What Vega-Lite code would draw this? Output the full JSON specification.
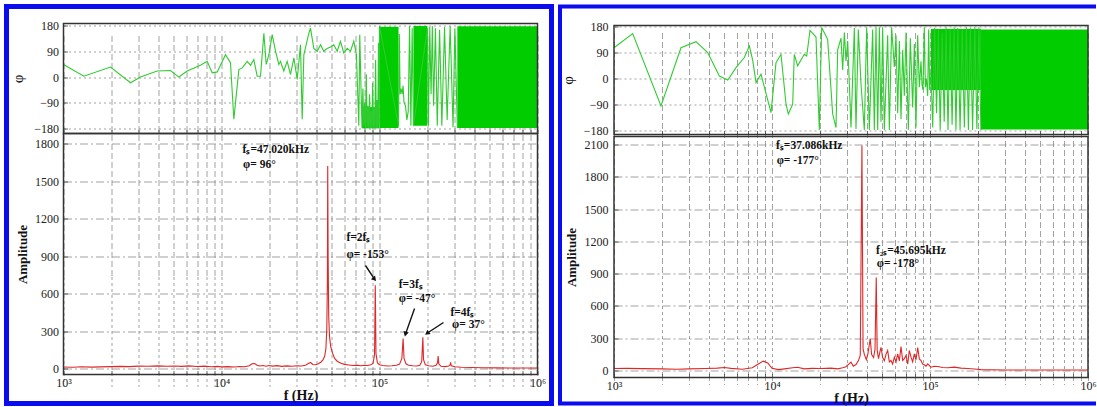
{
  "$schema": "https://vega.github.io/schema/vega-lite/v6.json",
  "background": "white",
  "padding": {"left": 3.5, "top": 3.5, "right": 0, "bottom": 0},
  "spacing": 3.5,
  "config": {
    "font": "Liberation Serif",
    "view": {"stroke": null},
    "axis": {
      "labelFont": "Liberation Serif", "labelFontSize": 12, "labelColor": "#222",
      "titleFont": "Liberation Serif", "titleColor": "#111", "titleFontWeight": "normal",
      "gridColor": "#8c8c8c", "gridWidth": 0.8, "domain": false,
      "ticks": true, "tickSize": -4, "tickColor": "#444", "tickWidth": 0.8
    }
  },
  "datasets": {
    "phL_line": [
      {"f":1000,"p":44},{"f":1345,"p":3},{"f":1984,"p":35},{"f":2655,"p":-20},{"f":3071,"p":0},{"f":3917,"p":21},{"f":4753,"p":23},{"f":5370,"p":0},{"f":6066,"p":21},{"f":7361,"p":41},{"f":8114,"p":55},{"f":8733,"p":15},{"f":9397,"p":18},{"f":10600,"p":78},{"f":11400,"p":50},{"f":11970,"p":-147},{"f":12880,"p":26},{"f":13520,"p":32},{"f":14550,"p":55},{"f":15270,"p":41},{"f":16010,"p":61},{"f":16820,"p":3},{"f":17660,"p":3},{"f":18540,"p":153},{"f":19190,"p":44},{"f":19950,"p":78},{"f":20940,"p":148},{"f":21980,"p":90},{"f":23070,"p":44},{"f":23620,"p":55},{"f":24790,"p":21},{"f":26040,"p":55},{"f":27340,"p":9},{"f":28710,"p":67},{"f":30150,"p":-8},{"f":31620,"p":113},{"f":32410,"p":-147},{"f":33210,"p":78},{"f":35720,"p":153},{"f":36580,"p":171},{"f":38390,"p":100},{"f":40330,"p":90},{"f":42350,"p":113},{"f":44400,"p":90},{"f":46650,"p":100},{"f":48980,"p":105},{"f":51400,"p":113},{"f":53950,"p":90},{"f":56620,"p":125},{"f":59430,"p":84},{"f":62500,"p":100},{"f":65500,"p":90},{"f":68750,"p":125},{"f":71450,"p":78},{"f":73960,"p":-170},{"f":75000,"p":148},{"f":76560,"p":-60},
      {"f":77500,"p":-178},{"f":78500,"p":-40},{"f":79500,"p":-170},{"f":80500,"p":-90},{"f":81500,"p":-178},{"f":82500,"p":10},{"f":83500,"p":-175},{"f":84500,"p":-100},{"f":85500,"p":-178},{"f":86500,"p":-60},{"f":87500,"p":-178},{"f":88500,"p":-120},{"f":89500,"p":-178},{"f":90500,"p":-20},{"f":91500,"p":-176},{"f":92500,"p":-110},{"f":93500,"p":-178},{"f":94500,"p":60},{"f":95500,"p":-178},{"f":96500,"p":-80},{"f":97500,"p":-178},{"f":98500,"p":120},{"f":99500,"p":-170},{"f":100000,"p":178},
      {"f":132000,"p":-170},{"f":133500,"p":150},{"f":135000,"p":-60},{"f":137000,"p":-40},{"f":139000,"p":-60},{"f":141000,"p":-30},{"f":143000,"p":-90},{"f":146000,"p":-100},{"f":149000,"p":-150},{"f":152000,"p":-120},{"f":155000,"p":178},{"f":158000,"p":-170},{"f":161000,"p":170},{"f":164000,"p":-170},
      {"f":201000,"p":170},{"f":204000,"p":-170},{"f":208000,"p":175},{"f":212000,"p":-60},{"f":216000,"p":178},{"f":220000,"p":-100},{"f":226000,"p":170},{"f":232000,"p":-170},{"f":240000,"p":165},{"f":248000,"p":-170},{"f":258000,"p":175},{"f":268000,"p":-150},{"f":280000,"p":178},{"f":292000,"p":-175},{"f":300000,"p":170},{"f":311000,"p":-178}
    ],
    "phL_band": [
      {"f":77500,"lo":-179,"hi":-105,"s":"a"},{"f":99500,"lo":-179,"hi":-105,"s":"a"},
      {"f":100000,"lo":-178,"hi":176,"s":"b"},{"f":132000,"lo":-178,"hi":176,"s":"b"},
      {"f":164000,"lo":-170,"hi":178,"s":"c"},{"f":201000,"lo":-170,"hi":178,"s":"c"},
      {"f":311000,"lo":-178,"hi":177,"s":"d"},{"f":1000000,"lo":-178,"hi":177,"s":"d"}
    ],
    "phR_line": [
      {"f":1000,"p":107},{"f":1313,"p":156},{"f":1983,"p":-95},{"f":2654,"p":107},{"f":3303,"p":128},{"f":3917,"p":90},{"f":4642,"p":9},{"f":5245,"p":-5},{"f":5918,"p":38},{"f":6683,"p":73},{"f":7189,"p":113},{"f":7550,"p":63},{"f":7925,"p":-14},{"f":8518,"p":15},{"f":9858,"p":-118},{"f":10600,"p":55},{"f":11400,"p":84},{"f":12270,"p":-89},{"f":12690,"p":-123},{"f":13520,"p":-89},{"f":13840,"p":84},{"f":14530,"p":44},{"f":16010,"p":84},{"f":16580,"p":78},{"f":17400,"p":167},{"f":18990,"p":144},{"f":19930,"p":-178},{"f":20620,"p":177},{"f":22500,"p":136},{"f":24210,"p":-123},{"f":25420,"p":-170},
      {"f":26040,"p":100},{"f":27340,"p":140},{"f":28010,"p":30},{"f":28710,"p":160},{"f":29400,"p":60},{"f":30130,"p":130},{"f":31620,"p":-170},{"f":33200,"p":175},{"f":34010,"p":-175},{"f":35190,"p":170},{"f":36590,"p":-20},{"f":38400,"p":-178},{"f":39730,"p":178},{"f":41300,"p":-178},{"f":43360,"p":170},{"f":44430,"p":-178},{"f":45520,"p":178},{"f":46650,"p":-178},{"f":47800,"p":178},{"f":48970,"p":-150},{"f":50170,"p":178},{"f":51400,"p":-178},{"f":53950,"p":150},{"f":55280,"p":-178},{"f":57190,"p":178},{"f":59470,"p":40},{"f":60940,"p":150},{"f":62430,"p":-120},{"f":63970,"p":130},{"f":65540,"p":-140},{"f":67150,"p":100},{"f":68800,"p":-60},{"f":70500,"p":160},{"f":72930,"p":-178},{"f":75090,"p":140},{"f":77680,"p":-100},{"f":79590,"p":120},{"f":81540,"p":-170},{"f":83550,"p":150},{"f":85600,"p":-30},{"f":87700,"p":60},{"f":88990,"p":-20},{"f":90300,"p":-40},{"f":92070,"p":178},{"f":93420,"p":-30},{"f":94800,"p":0},{"f":96660,"p":-60},{"f":98060,"p":170},{"f":99510,"p":-40},{"f":101500,"p":20},
      {"f":104000,"p":-170},{"f":107000,"p":175},{"f":110000,"p":-120},{"f":113000,"p":170},{"f":116000,"p":-178},{"f":119500,"p":160},{"f":123000,"p":-150},{"f":126500,"p":178},{"f":130000,"p":-178},{"f":134000,"p":170},{"f":138000,"p":-160},{"f":142000,"p":178},{"f":146000,"p":-178},{"f":150000,"p":175},{"f":155000,"p":-178},{"f":160000,"p":170},{"f":165000,"p":-170},{"f":170000,"p":178},{"f":175000,"p":-178},{"f":180000,"p":175},{"f":186000,"p":-178},{"f":192000,"p":178},{"f":198000,"p":-175},{"f":204000,"p":178},{"f":210000,"p":-178}
    ],
    "phR_band": [
      {"f":101500,"lo":-40,"hi":172,"s":"a"},{"f":210000,"lo":-40,"hi":172,"s":"a"},
      {"f":210000,"lo":-177,"hi":170,"s":"b"},{"f":1000000,"lo":-177,"hi":170,"s":"b"}
    ],
    "ampL": [
      {"f":1000,"a":12},{"f":1150,"a":10},{"f":1300,"a":14},{"f":1500,"a":11},{"f":1700,"a":13},{"f":2000,"a":15},{"f":2300,"a":17},{"f":2600,"a":15},{"f":3000,"a":19},{"f":3400,"a":18},{"f":4000,"a":21},{"f":4500,"a":18},{"f":5000,"a":20},{"f":5600,"a":17},{"f":6200,"a":21},{"f":7000,"a":16},{"f":7800,"a":19},{"f":8600,"a":14},{"f":9400,"a":17},{"f":10000,"a":13},{"f":11000,"a":15},{"f":12000,"a":12},{"f":13000,"a":16},{"f":14000,"a":14},{"f":15000,"a":22},{"f":15600,"a":38},{"f":16200,"a":40},{"f":16800,"a":26},{"f":17500,"a":20},{"f":18300,"a":24},{"f":19200,"a":18},{"f":20000,"a":24},{"f":21000,"a":19},{"f":22500,"a":23},{"f":24000,"a":17},{"f":26000,"a":21},{"f":28000,"a":18},{"f":30000,"a":22},{"f":32000,"a":20},{"f":34000,"a":26},{"f":35500,"a":40},{"f":36600,"a":48},{"f":37800,"a":32},{"f":39500,"a":30},{"f":41000,"a":38},{"f":42500,"a":50},{"f":44000,"a":70},{"f":45000,"a":100},{"f":45800,"a":160},{"f":46400,"a":320},{"f":46800,"a":700},{"f":47020,"a":1620},{"f":47300,"a":900},{"f":47700,"a":420},{"f":48300,"a":250},{"f":49200,"a":170},{"f":50500,"a":120},{"f":52000,"a":80},{"f":54000,"a":58},{"f":57000,"a":42},{"f":60000,"a":33},{"f":64000,"a":28},{"f":68000,"a":24},{"f":72000,"a":27},{"f":76000,"a":22},{"f":80000,"a":26},{"f":84000,"a":24},{"f":88000,"a":30},{"f":91000,"a":40},{"f":93000,"a":110},{"f":94040,"a":665},{"f":95000,"a":120},{"f":97000,"a":45},{"f":100000,"a":30},{"f":105000,"a":24},{"f":112000,"a":20},{"f":120000,"a":22},{"f":128000,"a":26},{"f":134000,"a":35},{"f":138500,"a":80},{"f":141060,"a":240},{"f":143000,"a":80},{"f":147000,"a":38},{"f":153000,"a":26},{"f":162000,"a":22},{"f":172000,"a":20},{"f":180000,"a":26},{"f":185000,"a":55},{"f":188080,"a":250},{"f":190000,"a":70},{"f":195000,"a":30},{"f":205000,"a":22},{"f":218000,"a":18},{"f":228000,"a":25},{"f":233000,"a":45},{"f":235100,"a":100},{"f":237500,"a":35},{"f":245000,"a":18},{"f":260000,"a":15},{"f":275000,"a":20},{"f":280000,"a":30},{"f":282100,"a":50},{"f":284500,"a":22},{"f":300000,"a":14},{"f":330000,"a":10},{"f":380000,"a":8},{"f":450000,"a":6},{"f":550000,"a":5},{"f":700000,"a":4},{"f":1000000,"a":4}
    ],
    "ampR": [
      {"f":1000,"a":18},{"f":1200,"a":20},{"f":1500,"a":17},{"f":2000,"a":15},{"f":2500,"a":12},{"f":3000,"a":15},{"f":3800,"a":18},{"f":4500,"a":22},{"f":5000,"a":28},{"f":5500,"a":20},{"f":6500,"a":12},{"f":7500,"a":25},{"f":8200,"a":60},{"f":8800,"a":87},{"f":9400,"a":70},{"f":10000,"a":20},{"f":11000,"a":8},{"f":12000,"a":15},{"f":13500,"a":25},{"f":14500,"a":30},{"f":16000,"a":15},{"f":18000,"a":20},
      {"f":20420,"a":18},{"f":23620,"a":22},{"f":26040,"a":15},{"f":28010,"a":25},{"f":29400,"a":35},{"f":31620,"a":77},{"f":32700,"a":40},{"f":34010,"a":55},{"f":35190,"a":90},{"f":36200,"a":140},{"f":37086,"a":2090},{"f":37700,"a":200},{"f":38400,"a":150},{"f":39540,"a":100},{"f":40510,"a":160},{"f":41850,"a":297},{"f":42680,"a":150},{"f":43960,"a":120},{"f":44880,"a":200},{"f":45695,"a":865},{"f":46300,"a":190},{"f":47230,"a":110},{"f":48150,"a":170},{"f":48970,"a":216},{"f":50170,"a":120},{"f":51400,"a":90},{"f":52660,"a":150},{"f":53950,"a":186},{"f":55280,"a":80},{"f":56620,"a":93},{"f":58010,"a":60},{"f":59470,"a":124},{"f":60940,"a":80},{"f":62430,"a":155},{"f":63970,"a":90},{"f":65540,"a":223},{"f":67150,"a":93},{"f":68800,"a":110},{"f":70500,"a":140},{"f":72270,"a":60},{"f":73970,"a":186},{"f":75860,"a":124},{"f":77680,"a":80},{"f":79590,"a":155},{"f":81540,"a":100},{"f":83550,"a":214},{"f":85600,"a":108},{"f":87700,"a":93},{"f":89860,"a":60},{"f":92070,"a":53},{"f":94330,"a":40},{"f":96660,"a":62},{"f":101500,"a":31},{"f":106400,"a":40},{"f":111900,"a":37},{"f":120300,"a":28},{"f":129400,"a":25},{"f":142600,"a":31},{"f":157000,"a":22},{"f":173400,"a":18},{"f":191000,"a":14},{"f":210400,"a":8},{"f":300000,"a":5},{"f":500000,"a":5},{"f":1000000,"a":5}
    ],
    "notesL": [
      {"f":13600,"a":1745,"t":"fₛ=47.020kHz"},{"f":13700,"a":1625,"t":"φ= 96°"},
      {"f":61800,"a":1042,"t":"f=2fₛ"},{"f":61800,"a":912,"t":"φ= -153°"},
      {"f":132400,"a":670,"t":"f=3fₛ"},{"f":132400,"a":555,"t":"φ= -47°"},
      {"f":281000,"a":448,"t":"f=4fₛ"},{"f":288000,"a":352,"t":"φ= 37°"}
    ],
    "notesR": [
      {"f":10600,"a":2090,"t":"fₛ=37.086kHz"},{"f":10700,"a":1950,"t":"φ= -177°"},
      {"f":45500,"a":1114,"t":"f₂ₛ=45.695kHz"},{"f":46000,"a":991,"t":"φ= -178°"}
    ],
    "arrL": [
      {"k":1,"f1":81500,"a1":824,"f2":93000,"a2":715},
      {"k":2,"f1":166700,"a1":480,"f2":146000,"a2":275},
      {"k":3,"f1":254000,"a1":368,"f2":200000,"a2":282}
    ]
  },
  "hconcat": [
    {
      "width": 545, "height": 397,
      "view": {"stroke": "#0b0bef", "strokeWidth": 5},
      "resolve": {"scale": {"y": "independent"}, "axis": {"x": "independent", "y": "independent"}},
      "layer": [
        {
          "layer": [
            {
              "data": {"name": "phL_band"},
              "mark": {"type": "area", "color": "#00cc00", "opacity": 1},
              "encoding": {
                "x": {"field": "f", "type": "quantitative",
                      "scale": {"type": "log", "domain": [1000, 1000000], "range": [57, 531], "nice": false},
                      "axis": {"orient": "bottom", "offset": -270, "labels": false, "title": null, "grid": true, "gridDash": [3, 3],
                               "values": [1000,2000,3000,4000,5000,6000,7000,8000,9000,10000,20000,30000,40000,50000,60000,70000,80000,90000,100000,200000,300000,400000,500000,600000,700000,800000,900000,1000000]}},
                "y": {"field": "lo", "type": "quantitative",
                      "scale": {"domain": [-197, 187], "range": [127, 17], "nice": false, "zero": false},
                      "axis": {"orient": "left", "offset": -57, "values": [-180, -90, 0, 90, 180], "format": "d", "grid": true, "gridDash": [2, 3],
                               "title": "φ", "titleFontSize": 15, "titlePadding": 8, "labelPadding": 9}},
                "y2": {"field": "hi"},
                "detail": {"field": "s"}
              }
            },
            {
              "data": {"name": "phL_line"},
              "mark": {"type": "line", "color": "#2fcc2f", "strokeWidth": 1.1},
              "encoding": {"x": {"field": "f", "type": "quantitative"}, "y": {"field": "p", "type": "quantitative"}}
            },
            {
              "data": {"values": [{}]},
              "mark": {"type": "rect", "fill": null, "stroke": "#333", "strokeWidth": 1.5},
              "encoding": {"x": {"datum": 1000}, "x2": {"datum": 1000000}, "y": {"datum": -197}, "y2": {"datum": 187}}
            }
          ]
        },
        {
          "layer": [
            {
              "data": {"name": "ampL"},
              "mark": {"type": "line", "color": "#e02828", "strokeWidth": 1.1},
              "encoding": {
                "x": {"field": "f", "type": "quantitative",
                      "scale": {"type": "log", "domain": [1000, 1000000], "range": [57, 531], "nice": false},
                      "axis": {"orient": "bottom", "offset": -29, "grid": true, "gridDash": [6, 3], "labelOverlap": false, "labelFlush": false, "labelPadding": 7,
                               "values": [1000,2000,3000,4000,5000,6000,7000,8000,9000,10000,20000,30000,40000,50000,60000,70000,80000,90000,100000,200000,300000,400000,500000,600000,700000,800000,900000,1000000],
                               "labelExpr": "datum.value == 1000 ? '10³' : datum.value == 10000 ? '10⁴' : datum.value == 100000 ? '10⁵' : datum.value == 1000000 ? '10⁶' : ''",
                               "title": "f (Hz)", "titleFontWeight": "bold", "titleFontSize": 14, "titlePadding": 0}},
                "y": {"field": "a", "type": "quantitative",
                      "scale": {"domain": [-48, 1880], "range": [368, 127], "nice": false, "zero": false},
                      "axis": {"orient": "left", "offset": -57, "values": [0, 300, 600, 900, 1200, 1500, 1800], "format": "d", "grid": true, "gridDash": [8, 3, 2, 3],
                               "title": "Amplitude", "titleFontWeight": "bold", "titleFontSize": 13, "titlePadding": 5, "labelPadding": 9}}
              }
            },
            {
              "data": {"values": [{}]},
              "mark": {"type": "rect", "fill": null, "stroke": "#333", "strokeWidth": 1.5},
              "encoding": {"x": {"datum": 1000}, "x2": {"datum": 1000000}, "y": {"datum": -48}, "y2": {"datum": 1880}}
            },
            {
              "data": {"name": "notesL"},
              "mark": {"type": "text", "align": "left", "baseline": "middle", "fontWeight": "bold", "fontSize": 11.5, "font": "Liberation Serif", "color": "#111"},
              "encoding": {"x": {"field": "f", "type": "quantitative"}, "y": {"field": "a", "type": "quantitative"}, "text": {"field": "t"}}
            },
            {
              "data": {"name": "arrL"},
              "mark": {"type": "rule", "color": "#111", "strokeWidth": 1.4},
              "encoding": {"x": {"field": "f1", "type": "quantitative"}, "y": {"field": "a1", "type": "quantitative"}, "x2": {"field": "f2"}, "y2": {"field": "a2"}}
            },
            {
              "data": {"name": "arrL"}, "transform": [{"filter": "datum.k == 1"}],
              "mark": {"type": "point", "shape": "triangle-up", "filled": true, "color": "#111", "opacity": 1, "size": 30, "angle": 139},
              "encoding": {"x": {"field": "f2", "type": "quantitative"}, "y": {"field": "a2", "type": "quantitative"}}
            },
            {
              "data": {"name": "arrL"}, "transform": [{"filter": "datum.k == 2"}],
              "mark": {"type": "point", "shape": "triangle-up", "filled": true, "color": "#111", "opacity": 1, "size": 30, "angle": 196},
              "encoding": {"x": {"field": "f2", "type": "quantitative"}, "y": {"field": "a2", "type": "quantitative"}}
            },
            {
              "data": {"name": "arrL"}, "transform": [{"filter": "datum.k == 3"}],
              "mark": {"type": "point", "shape": "triangle-up", "filled": true, "color": "#111", "opacity": 1, "size": 30, "angle": 232},
              "encoding": {"x": {"field": "f2", "type": "quantitative"}, "y": {"field": "a2", "type": "quantitative"}}
            }
          ]
        }
      ]
    },
    {
      "width": 536, "height": 397,
      "view": {"stroke": "#0b0bef", "strokeWidth": 4, "strokeDash": [536, 397, 933, 1]},
      "resolve": {"scale": {"y": "independent"}, "axis": {"x": "independent", "y": "independent"}},
      "layer": [
        {
          "layer": [
            {
              "data": {"name": "phR_band"},
              "mark": {"type": "area", "color": "#00cc00", "opacity": 1},
              "encoding": {
                "x": {"field": "f", "type": "quantitative",
                      "scale": {"type": "log", "domain": [1000, 1000000], "range": [54, 528], "nice": false},
                      "axis": {"orient": "bottom", "offset": -269, "labels": false, "title": null, "grid": true, "gridDash": [3, 3],
                               "values": [1000,2000,3000,4000,5000,6000,7000,8000,9000,10000,20000,30000,40000,50000,60000,70000,80000,90000,100000,200000,300000,400000,500000,600000,700000,800000,900000,1000000]}},
                "y": {"field": "lo", "type": "quantitative",
                      "scale": {"domain": [-194, 184], "range": [128, 19], "nice": false, "zero": false},
                      "axis": {"orient": "left", "offset": -54, "values": [-180, -90, 0, 90, 180], "format": "d", "grid": true, "gridDash": [2, 3],
                               "title": "φ", "titleFontSize": 15, "titlePadding": 8, "labelPadding": 10}},
                "y2": {"field": "hi"},
                "detail": {"field": "s"}
              }
            },
            {
              "data": {"name": "phR_line"},
              "mark": {"type": "line", "color": "#2fcc2f", "strokeWidth": 1.1},
              "encoding": {"x": {"field": "f", "type": "quantitative"}, "y": {"field": "p", "type": "quantitative"}}
            },
            {
              "data": {"values": [{}]},
              "mark": {"type": "rect", "fill": null, "stroke": "#333", "strokeWidth": 1.5},
              "encoding": {"x": {"datum": 1000}, "x2": {"datum": 1000000}, "y": {"datum": -194}, "y2": {"datum": 184}}
            }
          ]
        },
        {
          "layer": [
            {
              "data": {"name": "ampR"},
              "mark": {"type": "line", "color": "#e02828", "strokeWidth": 1.1},
              "encoding": {
                "x": {"field": "f", "type": "quantitative",
                      "scale": {"type": "log", "domain": [1000, 1000000], "range": [54, 528], "nice": false},
                      "axis": {"orient": "bottom", "offset": -26, "grid": true, "gridDash": [6, 3], "labelOverlap": false, "labelFlush": false, "labelPadding": 7,
                               "values": [1000,2000,3000,4000,5000,6000,7000,8000,9000,10000,20000,30000,40000,50000,60000,70000,80000,90000,100000,200000,300000,400000,500000,600000,700000,800000,900000,1000000],
                               "labelExpr": "datum.value == 1000 ? '10³' : datum.value == 10000 ? '10⁴' : datum.value == 100000 ? '10⁵' : datum.value == 1000000 ? '10⁶' : ''",
                               "title": "f (Hz)", "titleFontWeight": "bold", "titleFontSize": 14, "titlePadding": 0}},
                "y": {"field": "a", "type": "quantitative",
                      "scale": {"domain": [-65, 2174], "range": [371, 130], "nice": false, "zero": false},
                      "axis": {"orient": "left", "offset": -54, "values": [0, 300, 600, 900, 1200, 1500, 1800, 2100], "format": "d", "grid": true, "gridDash": [8, 3, 2, 3],
                               "title": "Amplitude", "titleFontWeight": "bold", "titleFontSize": 13, "titlePadding": 6, "labelPadding": 10}}
              }
            },
            {
              "data": {"values": [{}]},
              "mark": {"type": "rect", "fill": null, "stroke": "#333", "strokeWidth": 1.5},
              "encoding": {"x": {"datum": 1000}, "x2": {"datum": 1000000}, "y": {"datum": -65}, "y2": {"datum": 2174}}
            },
            {
              "data": {"name": "notesR"},
              "mark": {"type": "text", "align": "left", "baseline": "middle", "fontWeight": "bold", "fontSize": 11.5, "font": "Liberation Serif", "color": "#111"},
              "encoding": {"x": {"field": "f", "type": "quantitative"}, "y": {"field": "a", "type": "quantitative"}, "text": {"field": "t"}}
            }
          ]
        }
      ]
    }
  ]
}
